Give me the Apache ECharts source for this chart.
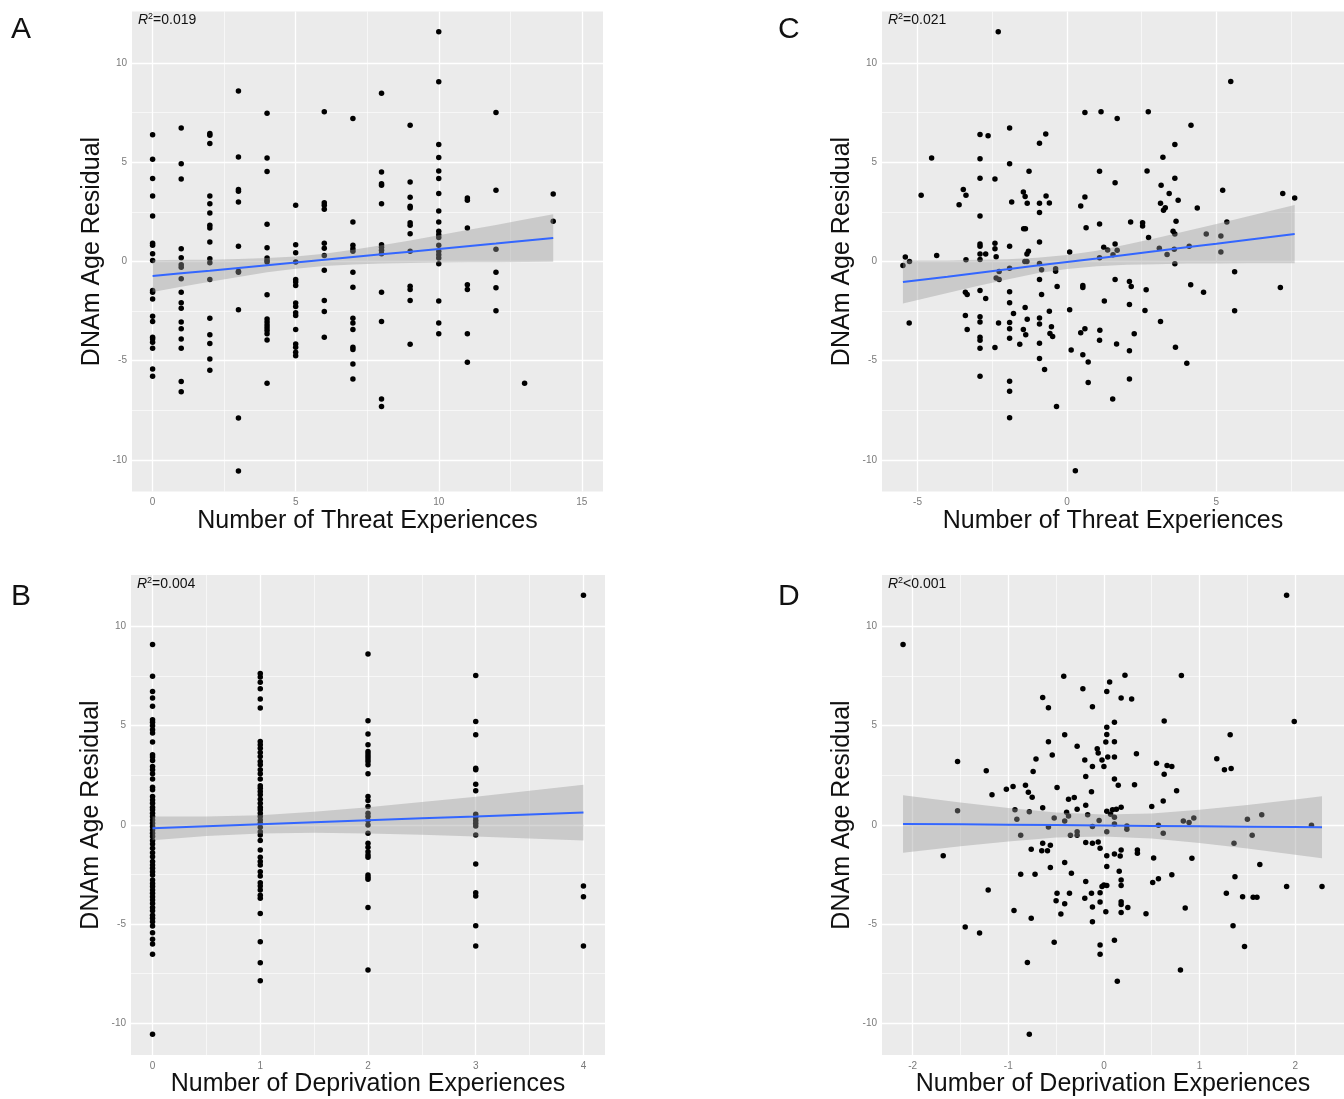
<!DOCTYPE html>
<html>
<head>
<meta charset="utf-8">
<title>DNAm Age Residual</title>
<script src="https://cdn.jsdelivr.net/npm/echarts@6/dist/echarts.min.js"></script>
<style>
  html, body { margin: 0; padding: 0; background: #fff; overflow: hidden; }
  #main { width: 1344px; height: 1099px; }
</style>
</head>
<body>
<div id="main"></div>
<script>
// A: residuals grouped by number of threat experiences (index = count)
var threatCountRes = [
  [6.38, 5.15, 4.18, 3.30, 2.29, 0.91, 0.81, 0.39, 0.05, -1.46, -1.55, -1.89, -2.76, -3.03, -3.82, -3.91, -4.07, -4.38, -5.42, -5.79],
  [6.73, 4.93, 4.16, 0.64, 0.19, -0.17, -0.29, -0.88, -1.55, -2.09, -2.36, -3.06, -3.40, -3.91, -4.38, -6.06, -6.57],
  [6.45, 6.36, 5.94, 3.30, 2.91, 2.44, 1.82, 1.68, 0.98, 0.13, -0.07, -0.91, -2.86, -3.70, -4.14, -4.92, -5.49],
  [8.59, 5.27, 3.62, 3.54, 3.00, 0.76, -0.49, -0.54, -2.44, -7.90, -10.57],
  [7.47, 5.22, 4.53, 1.87, 0.69, 0.17, 0.05, -0.03, -1.68, -2.90, -3.06, -3.20, -3.35, -3.48, -3.65, -3.96, -6.14],
  [2.83, 0.84, 0.44, -0.03, -0.91, -1.04, -1.21, -2.10, -2.27, -2.59, -2.73, -3.43, -4.16, -4.33, -4.58, -4.75],
  [7.54, 2.96, 2.83, 2.63, 0.91, 0.67, 0.30, -0.45, -1.97, -2.53, -3.82],
  [7.21, 1.99, 0.81, 0.64, 0.51, -0.54, -1.30, -2.86, -3.10, -3.43, -4.33, -4.44, -5.17, -5.93],
  [8.48, 4.51, 3.92, 3.84, 2.91, 0.84, 0.72, 0.56, 0.39, -1.55, -3.03, -6.94, -7.32],
  [6.87, 4.01, 3.23, 2.78, 2.69, 1.95, 1.82, 1.40, 0.51, -1.25, -1.41, -1.97, -4.18],
  [11.58, 9.06, 5.89, 5.24, 4.56, 4.18, 3.42, 2.54, 1.99, 1.52, 1.35, 1.20, 0.81, 0.51, 0.34, 0.17, -0.12, -1.99, -3.11, -3.65],
  [3.20, 3.08, 1.68, -1.18, -1.41, -3.65, -5.08],
  [7.51, 3.59, 0.61, -0.54, -1.33, -2.49],
  [-6.14],
  [3.40, 2.02]
];

// B: residuals grouped by number of deprivation experiences
var deprivCountRes = [
  [9.09, 7.49, 6.73, 6.40, 5.98, 5.30, 5.17, 5.00, 4.80, 4.63, 4.18, 3.54, 3.42, 3.25, 2.95, 2.78, 2.58, 2.31, 1.90, 1.77,
   1.43, 1.26, 1.09, 0.89, 0.76, 0.59, 0.42, 0.25, 0.08, -0.08, -0.25, -0.42, -0.59, -0.79, -0.96, -1.18, -1.40, -1.60,
   -1.85, -2.02, -2.19, -2.36, -2.53, -2.78, -2.95, -3.11, -3.28, -3.45, -3.62, -3.79, -3.96, -4.16, -4.33, -4.55, -4.71,
   -4.88, -5.10, -5.44, -5.77, -6.01, -6.52, -10.56],
  [7.63, 7.46, 7.19, 6.87, 6.35, 5.89, 4.21, 4.04, 3.87, 3.65, 3.45, 3.20, 3.03, 2.78, 2.58, 2.31, 1.97, 1.85, 1.68, 1.52,
   1.30, 1.09, 0.89, 0.76, 0.59, 0.42, 0.25, 0.08, -0.12, -0.34, -0.51, -0.79, -1.26, -1.63, -1.85, -2.02, -2.36, -2.58,
   -2.91, -3.08, -3.28, -3.54, -3.70, -4.46, -5.89, -6.95, -7.86],
  [8.62, 5.25, 4.58, 4.04, 3.70, 3.57, 3.45, 3.32, 3.20, 3.03, 2.58, 1.43, 1.23, 0.93, 0.59, 0.42, 0.22, 0.00, -0.42,
   -0.93, -1.13, -1.35, -1.52, -1.63, -2.53, -2.64, -2.74, -4.16, -7.32],
  [7.53, 5.22, 4.55, 2.86, 2.78, 2.05, 1.72, 0.54, 0.39, 0.22, 0.08, -0.05, -0.51, -1.97, -3.42, -3.59, -5.08, -6.11],
  [11.58, -3.08, -3.62, -6.11]
];

// C: residual vs threat score (x, y)
var threatAdjPts = [
  [-2.30, 11.58], [0.60, 7.51], [1.14, 7.54], [-1.92, 6.73], [-2.91, 6.40], [-2.64, 6.33], [-0.71, 6.43], [-0.92, 5.96],
  [-4.53, 5.22], [-2.91, 5.17], [-1.92, 4.93], [-1.27, 4.55], [1.09, 4.55], [-2.91, 4.19], [-2.41, 4.16], [-3.47, 3.62],
  [-3.38, 3.33], [-4.88, 3.33], [-1.46, 3.50], [-1.40, 3.27], [-0.70, 3.30], [-1.85, 3.00], [-1.33, 2.93], [-0.92, 2.93],
  [-0.59, 2.95], [0.60, 3.25], [-3.61, 2.86], [0.46, 2.79], [-0.92, 2.46], [-2.91, 2.29], [-1.45, 1.65], [-1.39, 1.65],
  [0.64, 1.70], [1.09, 1.89], [-0.92, 0.98], [-2.91, 0.88], [-2.91, 0.77], [-2.41, 0.91], [-2.41, 0.64], [-1.92, 0.77],
  [-1.29, 0.51], [-1.34, 0.37], [-2.91, 0.37], [-2.72, 0.37], [-2.37, 0.24], [-2.91, 0.10], [-3.38, 0.08], [-4.36, 0.30],
  [-5.41, 0.22], [-5.27, 0.00], [-5.49, -0.20], [0.09, 0.47], [1.23, 0.71], [1.09, 0.19], [-1.41, 0.00], [-1.34, 0.00],
  [-0.92, -0.10], [-2.27, -0.51], [-1.92, -0.34], [-0.85, -0.42], [-0.38, -0.37], [-0.38, -0.49], [-2.37, -0.84],
  [-2.27, -0.91], [-0.92, -0.91], [-0.33, -1.26], [0.53, -1.21], [0.53, -1.31], [-2.91, -1.46], [-1.92, -1.53],
  [-3.40, -1.55], [-3.34, -1.67], [-0.85, -1.67], [-2.72, -1.87], [1.25, -1.99], [-1.92, -2.09], [-1.40, -2.32],
  [0.09, -2.44], [-1.79, -2.63], [-0.59, -2.51], [-3.40, -2.73], [-2.91, -2.79], [-1.33, -2.91], [-0.92, -2.85],
  [-2.91, -3.05], [-5.28, -3.10], [-2.29, -3.10], [-1.92, -3.08], [-0.92, -3.16], [-0.52, -3.30], [-1.92, -3.40],
  [-1.46, -3.43], [-3.34, -3.43], [0.60, -3.40], [1.10, -3.47], [-1.38, -3.70], [-0.57, -3.64], [-0.48, -3.79],
  [0.46, -3.60], [-2.91, -3.82], [-1.92, -3.87], [-2.91, -3.97], [1.09, -3.97], [-1.58, -4.18], [-0.92, -4.12],
  [-2.91, -4.38], [-2.41, -4.34], [0.14, -4.46], [0.53, -4.70], [0.71, -5.07], [-0.92, -4.90], [-0.75, -5.45],
  [-2.91, -5.79], [0.71, -6.11], [-1.92, -6.04], [-1.92, -6.55], [-0.35, -7.32], [-1.92, -7.88], [0.28, -10.56],
  [2.72, 7.54], [1.68, 7.21], [5.48, 9.07], [4.15, 6.87], [3.61, 5.89], [3.21, 5.25], [2.68, 4.56], [3.61, 4.19],
  [1.61, 3.96], [3.15, 3.84], [3.42, 3.42], [5.21, 3.59], [3.72, 3.08], [7.22, 3.42], [7.62, 3.20], [3.13, 2.93],
  [3.29, 2.71], [3.23, 2.58], [4.36, 2.69], [2.13, 1.99], [2.53, 1.95], [2.53, 1.78], [3.65, 2.02], [5.35, 1.99],
  [3.55, 1.52], [3.61, 1.38], [2.73, 1.21], [4.66, 1.38], [5.15, 1.28], [1.36, 0.57], [1.61, 0.88], [1.68, 0.56],
  [1.54, 0.34], [3.09, 0.67], [3.59, 0.61], [3.35, 0.35], [4.09, 0.76], [5.15, 0.47], [3.61, -0.12], [5.61, -0.52],
  [1.61, -0.91], [2.09, -1.01], [2.15, -1.26], [2.65, -1.43], [4.14, -1.18], [4.57, -1.55], [7.14, -1.31],
  [2.09, -2.17], [2.61, -2.47], [5.61, -2.49], [3.13, -3.03], [2.25, -3.65], [1.66, -4.16], [2.09, -4.51],
  [3.63, -4.33], [4.01, -5.13], [2.09, -5.93], [1.53, -6.94]
];

// D: residual vs deprivation score (x, y)
var deprivAdjPts = [
  [-2.10, 9.09], [-0.42, 7.49], [-0.22, 6.87], [0.03, 6.73], [-0.64, 6.43], [-0.58, 5.91], [-0.12, 5.96], [-0.41, 4.55],
  [-0.58, 4.19], [-0.28, 3.96], [-0.54, 3.52], [-0.07, 3.84], [-0.06, 3.62], [-0.20, 3.27], [-0.71, 3.32], [-1.53, 3.20],
  [-0.02, 3.27], [0.00, 2.95], [-0.12, 2.95], [-1.23, 2.73], [-0.74, 2.69], [-0.19, 2.44], [-1.02, 1.80], [-0.95, 1.94],
  [-0.82, 2.00], [-0.49, 1.89], [-1.17, 1.52], [-0.79, 1.65], [-0.75, 1.40], [-0.13, 1.67], [-0.37, 1.30], [-0.31, 1.38],
  [-0.19, 0.99], [-0.64, 0.86], [-0.28, 0.79], [-0.93, 0.76], [-0.78, 0.67], [-1.53, 0.71], [-0.39, 0.64], [-0.37, 0.45],
  [-0.17, 0.51], [-0.52, 0.35], [-0.41, 0.20], [-0.05, 0.22], [-0.91, 0.29], [-0.58, -0.10], [-0.12, -0.08],
  [-0.87, -0.52], [-0.35, -0.52], [-0.28, -0.35], [-0.28, -0.52], [0.03, -0.35], [-0.19, -0.89], [-0.12, -0.93],
  [-0.06, -0.86], [-0.76, -1.23], [-0.64, -0.93], [-0.65, -1.30], [-0.59, -1.30], [-0.56, -1.03], [-0.04, -1.18],
  [-1.68, -1.55], [0.03, -1.55], [-0.41, -1.89], [-0.56, -2.15], [0.03, -2.10], [-0.34, -2.44], [-0.87, -2.49],
  [-0.72, -2.49], [-0.19, -2.85], [0.00, -3.03], [0.03, -3.06], [-0.02, -3.11], [-1.21, -3.28], [-0.49, -3.45],
  [-0.36, -3.45], [-0.13, -3.45], [-0.04, -3.42], [-0.50, -3.82], [-0.41, -3.97], [-0.20, -3.70], [-0.12, -4.14],
  [-0.04, -3.89], [-0.94, -4.31], [-0.45, -4.49], [0.02, -4.38], [-0.76, -4.71], [-0.12, -4.88], [-1.45, -5.15],
  [-1.30, -5.45], [-0.52, -5.91], [-0.04, -6.06], [-0.04, -6.52], [-0.80, -6.94], [-0.78, -10.56],
  [0.06, 7.21], [0.22, 7.54], [0.18, 6.40], [0.29, 6.35], [0.11, 5.17], [0.03, 4.93], [0.03, 4.56], [0.02, 4.18],
  [0.11, 4.19], [0.34, 3.59], [0.04, 3.42], [0.11, 3.42], [0.11, 2.31], [0.15, 2.00], [0.32, 2.02], [0.63, 5.24],
  [0.81, 7.53], [0.55, 3.11], [0.66, 3.00], [0.71, 2.95], [0.63, 2.56], [0.76, 1.72], [0.62, 1.21], [0.50, 0.93],
  [0.03, 0.69], [0.07, 0.54], [0.09, 0.76], [0.13, 0.79], [0.18, 0.89], [0.11, 0.39], [0.11, 0.05], [0.24, -0.05],
  [0.24, -0.22], [0.57, -0.02], [0.62, -0.42], [0.83, 0.20], [0.89, 0.12], [0.94, 0.35], [1.18, 3.33], [1.26, 2.78],
  [1.33, 2.85], [1.32, 4.55], [1.50, 0.29], [1.65, 0.51], [1.55, -0.52], [1.36, -0.93], [2.17, -0.02], [0.11, -1.46],
  [0.18, -1.26], [0.17, -1.57], [0.35, -1.26], [0.35, -1.43], [0.52, -1.67], [0.16, -2.34], [0.18, -2.78],
  [0.18, -3.06], [0.51, -2.90], [0.57, -2.71], [0.71, -2.51], [0.92, -1.68], [1.63, -1.99], [1.37, -2.61],
  [1.91, -3.10], [2.28, -3.10], [1.28, -3.45], [1.45, -3.62], [1.56, -3.65], [1.60, -3.65], [0.18, -3.87],
  [0.18, -4.01], [0.25, -4.16], [0.18, -4.41], [0.44, -4.48], [0.85, -4.19], [1.35, -5.08], [1.47, -6.13],
  [0.11, -5.81], [0.80, -7.32], [0.14, -7.88], [1.91, 11.58], [1.99, 5.22]
];

// fitted lines with 95% bands
var fitAx  = [0, 1, 2, 3, 4, 5, 6, 7, 8, 9, 10, 11, 12, 13, 14];
var fitAy  = [-0.74, -0.60, -0.47, -0.33, -0.19, -0.06, 0.08, 0.22, 0.36, 0.49, 0.63, 0.77, 0.90, 1.04, 1.18];
var fitAlo = [-1.54, -1.28, -1.03, -0.78, -0.55, -0.37, -0.23, -0.15, -0.10, -0.08, -0.06, -0.04, -0.04, -0.03, -0.02];
var fitAhi = [0.06, 0.08, 0.09, 0.12, 0.17, 0.25, 0.39, 0.59, 0.82, 1.06, 1.32, 1.58, 1.84, 2.11, 2.38];

var fitBx  = [0, 0.5, 1, 1.5, 2, 2.5, 3, 3.5, 4];
var fitBy  = [-0.17, -0.07, 0.03, 0.13, 0.23, 0.33, 0.42, 0.52, 0.62];
var fitBlo = [-0.77, -0.56, -0.43, -0.40, -0.43, -0.49, -0.58, -0.68, -0.78];
var fitBhi = [0.43, 0.42, 0.49, 0.66, 0.89, 1.15, 1.42, 1.72, 2.02];

var fitCx  = [-5.49, -4, -3, -2, -1, 0, 1, 2, 3, 4, 5, 6, 7.62];
var fitCy  = [-1.04, -0.77, -0.58, -0.40, -0.21, -0.03, 0.15, 0.34, 0.52, 0.71, 0.89, 1.08, 1.38];
var fitClo = [-2.12, -1.59, -1.24, -0.91, -0.60, -0.38, -0.24, -0.17, -0.14, -0.11, -0.11, -0.09, -0.09];
var fitChi = [0.04, 0.05, 0.08, 0.11, 0.18, 0.32, 0.54, 0.85, 1.18, 1.53, 1.89, 2.25, 2.85];

var fitDx  = [-2.1, -1.5, -1, -0.5, 0, 0.5, 1, 1.5, 2, 2.28];
var fitDy  = [0.05, 0.03, 0.01, -0.01, -0.03, -0.05, -0.07, -0.09, -0.11, -0.12];
var fitDlo = [-1.40, -1.07, -0.83, -0.64, -0.58, -0.68, -0.91, -1.19, -1.50, -1.68];
var fitDhi = [1.50, 1.13, 0.85, 0.62, 0.52, 0.58, 0.77, 1.01, 1.28, 1.44];

// axis breaks
var yTicks = [-10, -5, 0, 5, 10];
var yMinor = [-7.5, -2.5, 2.5, 7.5];
var xTicksA = [0, 5, 10, 15];
var xMinorA = [2.5, 7.5, 12.5];
var xTicksB = [0, 1, 2, 3, 4];
var xMinorB = [0.5, 1.5, 2.5, 3.5];
var xTicksC = [-5, 0, 5];
var xMinorC = [-2.5, 2.5, 7.5];
var xTicksD = [-2, -1, 0, 1, 2];
var xMinorD = [-1.5, -0.5, 0.5, 1.5];

var r2Labels = ['=0.019', '=0.004', '=0.021', '<0.001'];
var FONT = 'Liberation Sans, Arial, sans-serif';

function colPoints(cols) {
  var out = [];
  cols.forEach(function (ys, x) {
    ys.forEach(function (y) { out.push([x, y]); });
  });
  return out;
}

function zip(a, b) {
  return a.map(function (v, i) { return [v, b[i]]; });
}

var option = {
  animation: false,
  backgroundColor: '#ffffff',
  grid: [], xAxis: [], yAxis: [], series: [], graphic: []
};

function panel(i, box, pts, xr, xTicks, xMinor, xName, fx, fy, flo, fhi) {
  option.grid.push({
    left: box[0], top: box[1], width: box[2], height: box[3],
    show: true, backgroundColor: '#EBEBEB', borderWidth: 0
  });
  option.xAxis.push({
    type: 'value', gridIndex: i, min: xr[0], max: xr[1],
    name: xName, nameLocation: 'middle', nameGap: 15,
    nameTextStyle: { fontFamily: FONT, fontSize: 25, color: '#111' },
    axisLine: { show: false },
    axisTick: { show: true, customValues: xTicks, length: 3, lineStyle: { color: '#8a8a8a' } },
    axisLabel: { customValues: xTicks, margin: 6, fontFamily: FONT, fontSize: 10, color: '#7a7a7a' },
    splitLine: { show: false }
  });
  option.yAxis.push({
    type: 'value', gridIndex: i, min: -11.6, max: 12.6,
    name: 'DNAm Age Residual', nameLocation: 'middle', nameGap: 27,
    nameTextStyle: { fontFamily: FONT, fontSize: 25, color: '#111' },
    axisLine: { show: false },
    axisTick: { show: true, customValues: yTicks, length: 3, lineStyle: { color: '#8a8a8a' } },
    axisLabel: { customValues: yTicks, margin: 5, fontFamily: FONT, fontSize: 10, color: '#7a7a7a' },
    splitLine: { show: false }
  });

  var lines = [];
  xMinor.forEach(function (v) { lines.push({ xAxis: v, lineStyle: { width: 0.6 } }); });
  yMinor.forEach(function (v) { lines.push({ yAxis: v, lineStyle: { width: 0.6 } }); });
  xTicks.forEach(function (v) { lines.push({ xAxis: v, lineStyle: { width: 1.3 } }); });
  yTicks.forEach(function (v) { lines.push({ yAxis: v, lineStyle: { width: 1.3 } }); });

  option.series.push({
    type: 'scatter', xAxisIndex: i, yAxisIndex: i, data: pts,
    symbolSize: 5.5, itemStyle: { color: '#000', opacity: 1 }, z: 2, silent: true,
    markLine: {
      z: 1, silent: true, symbol: ['none', 'none'], label: { show: false },
      lineStyle: { color: '#ffffff', type: 'solid' },
      emphasis: { disabled: true },
      data: lines
    }
  });

  var band = fx.map(function (x, k) { return [x, flo[k], fhi[k]]; });
  option.series.push({
    type: 'custom', xAxisIndex: i, yAxisIndex: i, data: band, z: 3, silent: true,
    encode: { x: 0, y: [1, 2] },
    renderItem: function (params, api) {
      if (params.dataIndex !== 0) return null;
      var poly = [];
      for (var k = 0; k < fx.length; k++) poly.push(api.coord([fx[k], fhi[k]]));
      for (var j = fx.length - 1; j >= 0; j--) poly.push(api.coord([fx[j], flo[j]]));
      return { type: 'polygon', shape: { points: poly }, style: { fill: 'rgba(153,153,153,0.4)' } };
    }
  });

  option.series.push({
    type: 'line', xAxisIndex: i, yAxisIndex: i, data: zip(fx, fy), z: 4, silent: true,
    showSymbol: false, smooth: false,
    lineStyle: { color: '#3366FF', width: 2 }
  });

  option.graphic.push({
    type: 'text', x: box[0] + 6, y: box[1] + 9, z: 100,
    style: {
      text: '{r|R}{s|2}{t|' + r2Labels[i] + '}',
      verticalAlign: 'middle',
      rich: {
        r: { fontFamily: FONT, fontSize: 14, fontStyle: 'italic', fill: '#111', lineHeight: 16 },
        s: { fontFamily: FONT, fontSize: 9, fill: '#111', verticalAlign: 'top', lineHeight: 16 },
        t: { fontFamily: FONT, fontSize: 14, fill: '#111', lineHeight: 16 }
      }
    }
  });
}

var chart = echarts.init(document.getElementById('main'), null, { renderer: 'canvas' });

panel(0, [132, 11.5, 471, 480], colPoints(threatCountRes), [-0.72, 15.74], xTicksA, xMinorA,
  'Number of Threat Experiences', fitAx, fitAy, fitAlo, fitAhi);
panel(1, [131, 575, 474, 480], colPoints(deprivCountRes), [-0.2, 4.2], xTicksB, xMinorB,
  'Number of Deprivation Experiences', fitBx, fitBy, fitBlo, fitBhi);
panel(2, [882, 11.5, 474, 480], threatAdjPts, [-6.19, 9.27], xTicksC, xMinorC,
  'Number of Threat Experiences', fitCx, fitCy, fitClo, fitChi);
panel(3, [882, 575, 474, 480], deprivAdjPts, [-2.32, 2.51], xTicksD, xMinorD,
  'Number of Deprivation Experiences', fitDx, fitDy, fitDlo, fitDhi);

// panel letters
[['A', 11, 30], ['B', 11, 597], ['C', 778, 30], ['D', 778, 597]].forEach(function (l) {
  option.graphic.push({
    type: 'text', x: l[1], y: l[2], z: 100,
    style: { text: l[0], fontFamily: FONT, fontSize: 30, fill: '#111', verticalAlign: 'middle' }
  });
});

chart.setOption(option);
window.onresize = function () { chart.resize(); };
</script>
</body>
</html>
